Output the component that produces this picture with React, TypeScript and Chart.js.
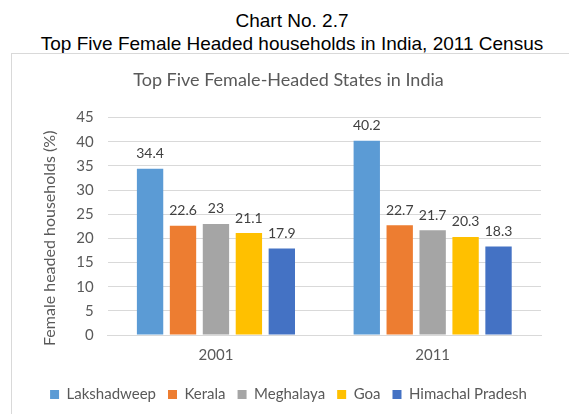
import React, { useEffect, useRef } from "react";
import { Chart, registerables } from "chart.js";

Chart.register(...registerables);

const pageTitle1 = "Chart No. 2.7";
const pageTitle2 = "Top Five Female Headed households in India, 2011 Census";
const chartTitle = "Top Five Female-Headed States in India";
const yAxisTitle = "Female headed households (%)";

const categories = ["2001", "2011"];
const seriesNames = ["Lakshadweep", "Kerala", "Meghalaya", "Goa", "Himachal Pradesh"];
const lakshadweep = [34.4, 40.2];
const kerala = [22.6, 22.7];
const meghalaya = [23, 21.7];
const goa = [21.1, 20.3];
const himachal = [17.9, 18.3];
const seriesColors = ["#5B9BD5", "#ED7D31", "#A5A5A5", "#FFC000", "#4472C4"];
const yMin = 0;
const yMax = 45;
const yStep = 5;

const FONT = "Lato, 'Open Sans', sans-serif";
const Y_TITLE_SIZE = 16;
const Y_TITLE_PAD_TOP = 4;

const valueLabels = {
  id: "valueLabels",
  afterDatasetsDraw(chart: any) {
    const ctx = chart.ctx;
    ctx.save();
    ctx.font = `14px ${FONT}`;
    ctx.fillStyle = "#404040";
    ctx.textAlign = "center";
    ctx.textBaseline = "bottom";
    chart.data.datasets.forEach((ds: any, i: number) => {
      const meta = chart.getDatasetMeta(i);
      meta.data.forEach((el: any, j: number) => {
        ctx.fillText(String(ds.data[j]), el.x, el.y - 8);
      });
    });
    ctx.restore();
  },
};

// draws the y-axis title slightly below the axis centre, as in the reference
const yTitleDrawer = {
  id: "yTitleDrawer",
  afterDraw(chart: any) {
    const ctx = chart.ctx;
    const sc = chart.scales.y;
    const ca = chart.chartArea;
    const x = sc.left + Y_TITLE_PAD_TOP + (Y_TITLE_SIZE * 1.2) / 2;
    const y = (ca.top + ca.bottom) / 2 + 12;
    ctx.save();
    ctx.translate(x, y);
    ctx.rotate(-Math.PI / 2);
    ctx.font = `${Y_TITLE_SIZE}px ${FONT}`;
    ctx.fillStyle = "#595959";
    ctx.textAlign = "center";
    ctx.textBaseline = "middle";
    ctx.fillText(yAxisTitle, 0, 0);
    ctx.restore();
  },
};

export default function App() {
  const ref = useRef<HTMLCanvasElement | null>(null);
  useEffect(() => {
    if (!ref.current) return;
    const allSeries = [lakshadweep, kerala, meghalaya, goa, himachal];
    const chart = new Chart(ref.current, {
      type: "bar",
      data: {
        labels: categories,
        datasets: allSeries.map((d, i) => ({
          label: seriesNames[i],
          data: d,
          backgroundColor: seriesColors[i],
          borderWidth: 0,
          categoryPercentage: 0.76,
          barPercentage: 0.8,
        })),
      },
      options: {
        responsive: false,
        animation: false,
        layout: { padding: { left: 24, right: 28, top: 0, bottom: 2 } },
        plugins: {
          title: {
            display: true,
            text: chartTitle,
            color: "#595959",
            font: { family: FONT, size: 18, weight: "normal" },
            padding: { top: 15, bottom: 27 },
          },
          legend: {
            position: "bottom",
            labels: {
              boxWidth: 9,
              boxHeight: 9,
              color: "#595959",
              font: { family: FONT, size: 15 },
              padding: 12,
            },
          },
          tooltip: { enabled: false },
        },
        scales: {
          x: {
            grid: { display: false, drawTicks: false },
            border: { display: true, color: "#D9D9D9" },
            ticks: { color: "#595959", font: { family: FONT, size: 15 }, padding: 11 },
          },
          y: {
            min: yMin,
            max: yMax,
            ticks: { stepSize: yStep, color: "#595959", font: { family: FONT, size: 15 }, padding: 14 },
            grid: { color: "#D9D9D9", drawTicks: false },
            border: { display: false },
            title: {
              display: true,
              text: yAxisTitle,
              color: "rgba(0,0,0,0)",
              font: { family: FONT, size: Y_TITLE_SIZE },
              padding: { top: Y_TITLE_PAD_TOP, bottom: 3 },
            },
          },
        },
      },
      plugins: [valueLabels, yTitleDrawer],
    });
    return () => chart.destroy();
  }, []);

  return (
    <div style={{ position: "absolute", left: 0, top: 0, width: 569, height: 414, background: "#fff", overflow: "hidden" }}>
      <div
        style={{
          position: "absolute",
          left: 0,
          top: 8.5,
          width: 584,
          textAlign: "center",
          fontFamily: "'Liberation Sans', Arial, sans-serif",
          fontSize: 19,
          lineHeight: "23px",
          color: "#000",
        }}
      >
        <div>{pageTitle1}</div>
        <div>{pageTitle2}</div>
      </div>
      <div
        style={{
          position: "absolute",
          left: 11,
          top: 53,
          width: 600,
          height: 420,
          border: "1px solid #D9D9D9",
          boxSizing: "border-box",
        }}
      >
        <canvas ref={ref} width={557} height={360} style={{ display: "block", width: 557, height: 360 }} />
      </div>
    </div>
  );
}
